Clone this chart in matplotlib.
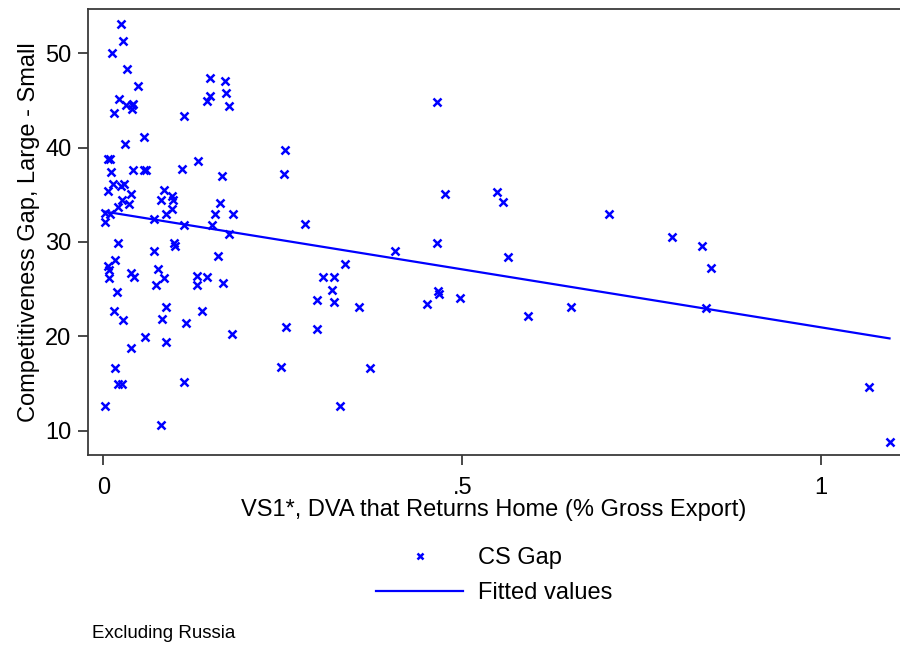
import matplotlib
matplotlib.use("Agg")
import matplotlib.pyplot as plt
from matplotlib.lines import Line2D
import numpy as np

plt.rcParams['font.family'] = ['Liberation Sans', 'DejaVu Sans']

# VS1* share (x) and competitiveness gap (y)
vs1 = [0.025, 0.028, 0.012, 0.033, 0.048, 0.022, 0.031, 0.040, 0.042, 0.040,
       0.015, 0.149, 0.169, 0.149, 0.171, 0.144, 0.175, 0.113, 0.056, 0.030,
       0.007, 0.009, 0.132, 0.011, 0.042, 0.056, 0.059, 0.110, 0.166, 0.013,
       0.024, 0.029, 0.007, 0.038, 0.084, 0.095, 0.097, 0.081, 0.026, 0.036,
       0.020, 0.095, 0.087, 0.163, 0.156, 0.180, 0.003, 0.009, 0.003, 0.070,
       0.112, 0.152, 0.175, 0.020, 0.071, 0.099, 0.100, 0.160, 0.016, 0.007,
       0.008, 0.008, 0.039, 0.043, 0.076, 0.085, 0.074, 0.131, 0.144, 0.131,
       0.167, 0.019, 0.015, 0.028, 0.087, 0.082, 0.137, 0.115, 0.179, 0.058,
       0.087, 0.039, 0.017, 0.020, 0.026, 0.112, 0.002, 0.080,
       0.253, 0.252, 0.476, 0.548, 0.556, 0.281, 0.465, 0.406, 0.563, 0.337,
       0.306, 0.321, 0.319, 0.297, 0.321, 0.356, 0.466, 0.467, 0.451, 0.497,
       0.591, 0.255, 0.298, 0.247, 0.371, 0.329, 0.465, 0.704, 0.792, 0.834,
       0.846, 0.652, 0.839, 1.066, 1.095]
cs_gap = [53.1, 51.3, 50.0, 48.3, 46.5, 45.2, 44.5, 44.5, 44.6, 44.1,
          43.7, 47.4, 47.1, 45.5, 45.8, 44.9, 44.4, 43.4, 41.1, 40.4,
          38.8, 38.8, 38.6, 37.4, 37.6, 37.6, 37.6, 37.7, 37.0, 36.1,
          35.9, 36.1, 35.4, 35.1, 35.5, 34.9, 34.5, 34.5, 34.4, 34.0,
          33.7, 33.5, 33.0, 34.1, 33.0, 33.0, 33.1, 33.0, 32.1, 32.4,
          31.8, 31.8, 30.8, 29.9, 29.0, 29.9, 29.6, 28.5, 28.1, 27.5,
          27.0, 26.2, 26.7, 26.3, 27.1, 26.2, 25.4, 26.4, 26.3, 25.4,
          25.7, 24.7, 22.7, 21.7, 23.1, 21.8, 22.7, 21.4, 20.3, 19.9,
          19.4, 18.8, 16.6, 14.9, 14.9, 15.2, 12.6, 10.6,
          39.7, 37.2, 35.1, 35.3, 34.2, 31.9, 29.9, 29.0, 28.4, 27.7,
          26.3, 26.3, 24.9, 23.8, 23.6, 23.1, 24.8, 24.5, 23.4, 24.1,
          22.2, 21.0, 20.8, 16.8, 16.6, 12.6, 44.8, 33.0, 30.5, 29.6,
          27.2, 23.1, 23.0, 14.6, 8.8]

x_ticks = [0, 0.5, 1]
x_tick_labels = ['0', '.5', '1']
y_ticks = [10, 20, 30, 40, 50]

blue = '#0000FF'
frame = '#3a3a3a'

x = np.array(vs1)
y = np.array(cs_gap)
slope, intercept = np.polyfit(x, y, 1)
xf = np.array([x.min(), x.max()])
yf = intercept + slope * xf

fig = plt.figure(figsize=(9, 6.45), dpi=100)
ax = fig.add_axes([88 / 900, 190 / 645, 812 / 900, 446 / 645])

ax.plot(x, y, linestyle='none', marker='x', color=blue, markersize=5.5, markeredgewidth=1.8)
ax.plot(xf, yf, color=blue, linewidth=1.6)

ax.set_xlim(-0.0213, 1.1096)
ax.set_ylim(7.42, 54.7)
ax.set_xticks(x_ticks)
ax.set_xticklabels(x_tick_labels)
ax.set_yticks(y_ticks)

for side in ['left', 'bottom', 'top']:
    ax.spines[side].set_color(frame)
    ax.spines[side].set_linewidth(1.3)
ax.spines['right'].set_visible(False)
ax.tick_params(direction='out', length=7, width=1.3, color=frame, labelsize=17, pad=5)
ax.tick_params(axis='x', pad=9)

ax.set_xlabel('VS1*, DVA that Returns Home (% Gross Export)', fontsize=17, labelpad=0)
ax.set_ylabel('Competitiveness Gap, Large - Small', fontsize=17, labelpad=4)

handles = [Line2D([], [], linestyle='none', marker='x', color=blue, markersize=5, markeredgewidth=1.8),
           Line2D([], [], color=blue, linewidth=1.6)]
fig.legend(handles, ['CS Gap', 'Fitted values'], loc='upper left',
           bbox_to_anchor=(376 / 900, 1 - 547 / 645), frameon=False, fontsize=17,
           handlelength=3.7, handletextpad=0.6, labelspacing=0.55, borderpad=0,
           borderaxespad=0)

fig.text(92 / 900, 1 - 633 / 645, 'Excluding Russia', fontsize=13.5, va='center', ha='left')

fig.savefig('out.png', dpi=100, facecolor='white')
